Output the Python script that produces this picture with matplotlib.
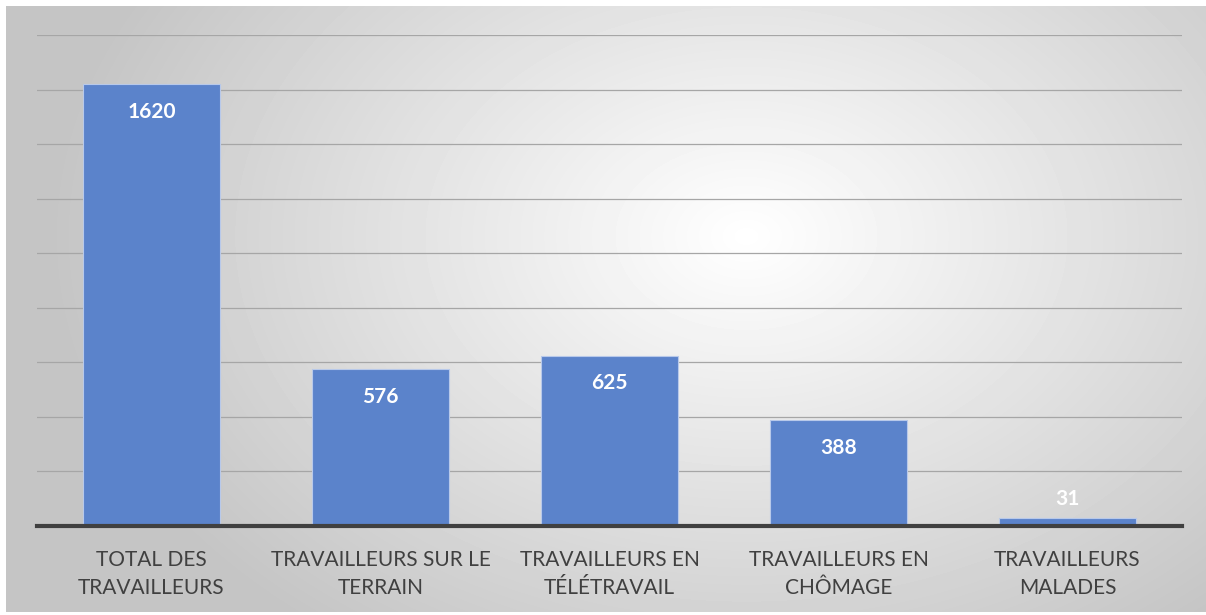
import numpy as np
import matplotlib
matplotlib.use("Agg")
import matplotlib.pyplot as plt

categories = ["TOTAL DES\nTRAVAILLEURS", "TRAVAILLEURS SUR LE\nTERRAIN",
              "TRAVAILLEURS EN\nTÉLÉTRAVAIL", "TRAVAILLEURS EN\nCHÔMAGE",
              "TRAVAILLEURS\nMALADES"]
values = [1620, 576, 625, 388, 31]

W, H = 1206, 615
FONT = ["Lato", "DejaVu Sans"]
fig = plt.figure(figsize=(W / 100, H / 100), dpi=100)
fig.patch.set_facecolor("white")

# radial gradient panel behind the chart
bg = fig.add_axes([6 / W, 3 / H, 1200 / W, 606 / H])
yy, xx = np.mgrid[0:606, 0:1200]
r = np.hypot((xx - 740) / 700, (yy - 230) / 500)
shade = 1.0 - 0.23 * np.clip(r, 0, 1)
bg.imshow(shade, cmap="gray", vmin=0, vmax=1, aspect="auto", interpolation="bilinear")
bg.set_axis_off()

ax = fig.add_axes([37 / W, (H - 526) / H, 1145 / W, 491 / H])
ax.set_facecolor("none")
x = np.arange(len(values))
ax.bar(x, values, width=0.6, color="#5b83cb", edgecolor="#b8c9ea", linewidth=0.8, zorder=3)

ax.set_xlim(-0.5, len(values) - 0.5)
ax.set_ylim(0, 1800)
ax.set_yticks(np.arange(200, 1801, 200))
ax.grid(axis="y", color="#a6a6a6", linewidth=0.9, zorder=0)
ax.tick_params(axis="y", left=False, labelleft=False)
ax.tick_params(axis="x", bottom=False, pad=14)
ax.set_xticks(x)
ax.set_xticklabels(categories, fontsize=15, color="#404040", family=FONT,
                   linespacing=1.5)
for side in ("top", "right", "left"):
    ax.spines[side].set_visible(False)
ax.spines["bottom"].set_color("#404040")
ax.spines["bottom"].set_linewidth(3)
ax.spines["bottom"].set_zorder(4)

for xi, v in zip(x, values):
    off = -20 if v > 200 else 13
    ax.annotate(str(v), (xi, v), xytext=(0, off), textcoords="offset points",
                ha="center", va="center", color="white", fontsize=15,
                fontweight="bold", family=FONT, zorder=5)

fig.savefig("out.png", dpi=100)
